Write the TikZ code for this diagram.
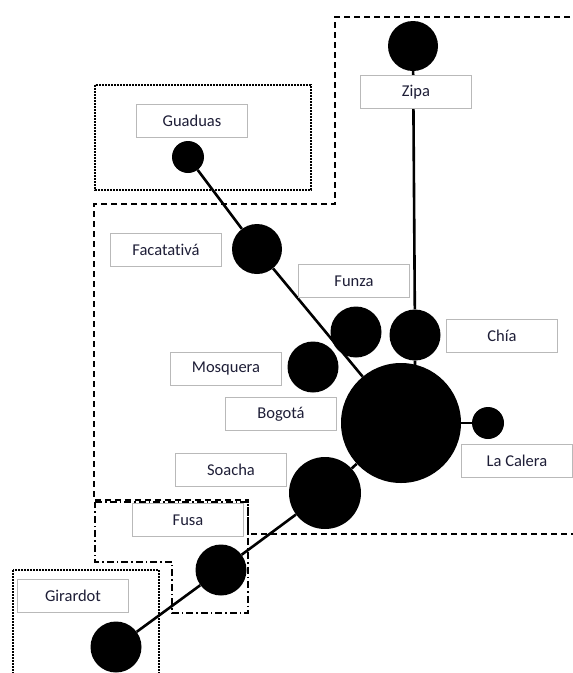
\documentclass[tikz,border=0pt]{standalone}
\usepackage{fontspec}
\setmainfont{Carlito}[Ligatures=NoCommon]
\definecolor{LabelGray}{RGB}{185,185,185}
\definecolor{LabelText}{RGB}{30,30,55}
\tikzstyle{town} = [circle, fill=black, inner sep=0pt]
\tikzstyle{label} = [rectangle, draw=LabelGray, line width=1.6pt, fill=white, minimum width=111pt, minimum height=33pt, text=LabelText, font=\fontsize{16.5}{19}\selectfont]
\tikzstyle{link} = [line width=2.6pt]
\tikzstyle{region} = [line width=1.6pt, dash pattern=on 6pt off 4pt]
\tikzstyle{subregion} = [line width=1.2pt, dash pattern=on 2pt off 1pt]
\tikzstyle{fusaregion} = [line width=1.6pt, dash pattern=on 7pt off 3pt on 1.5pt off 3pt]

\begin{document}
\begin{tikzpicture}[x=1pt, y=-1pt]
\clip (0,0) rectangle (573,673);

% Regiones
\draw [region] (590,17) -- (335,17) -- (335,204) -- (94,204) -- (94,500) -- (248,500) -- (248,534) -- (590,534);
\draw [subregion] (95,85) rectangle (311,190);
\draw [subregion] (13,570) rectangle (159,690);
\draw [fusaregion] (95,502) -- (248,502) -- (248,613) -- (172,613) -- (172,562) -- (95,562) -- cycle;

% Municipios
\node (zipa) [town, minimum size=50pt] at (413,46) {};
\node (guaduas) [town, minimum size=32pt] at (188,157) {};
\node (facatativa) [town, minimum size=50pt] at (257,249) {};
\node (funza) [town, minimum size=51pt] at (356,332) {};
\node (chia) [town, minimum size=51pt] at (415,335) {};
\node (mosquera) [town, minimum size=51pt] at (313,367) {};
\node (bogota) [town, minimum size=120pt] at (401,423) {};
\node (lacalera) [town, minimum size=32pt] at (488,423) {};
\node (soacha) [town, minimum size=72pt] at (325,493) {};
\node (fusa) [town, minimum size=51pt] at (221,570) {};
\node (girardot) [town, minimum size=51pt] at (116,647) {};

% Conexiones
\draw [link] (zipa) -- (chia) -- (chia |- bogota.center);
\draw [link] (guaduas) -- (facatativa) -- (bogota);
\draw [link] (bogota) -- (lacalera);
\draw [link] (bogota) -- (soacha) -- (fusa) -- (girardot);

% Etiquetas
\node (lzipa) [label] at (416,92) {Zipa};
\node (lguaduas) [label] at (192,121) {Guaduas};
\node (lfacatativa) [label] at (166,250) {Facatativá};
\node (lfunza) [label] at (354,281) {Funza};
\node (lchia) [label] at (502,336) {Chía};
\node (lmosquera) [label] at (226,369) {Mosquera};
\node (lbogota) [label] at (281,414) {Bogotá};
\node (llacalera) [label] at (517,461) {La Calera};
\node (lsoacha) [label] at (231,470) {Soacha};
\node (lfusa) [label] at (188,520) {Fusa};
\node (lgirardot) [label] at (73,596) {Girardot};

\end{tikzpicture}
\end{document}
